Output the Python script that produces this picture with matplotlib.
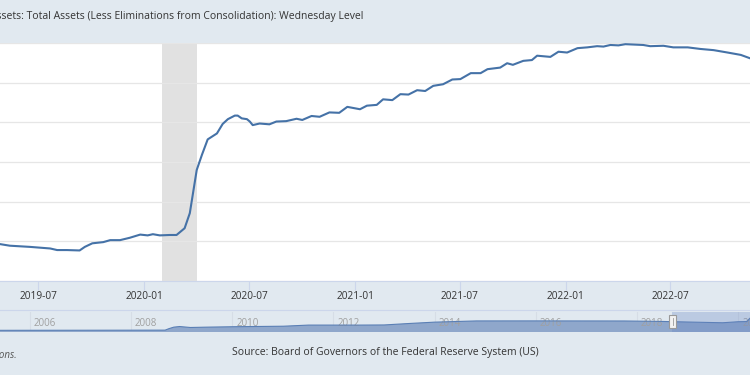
import matplotlib
matplotlib.use('Agg')
import matplotlib.pyplot as plt
import matplotlib.dates as mdates
import matplotlib.transforms as mtransforms
from matplotlib.patches import Rectangle
from matplotlib.lines import Line2D
import numpy as np

plt.rcParams['font.family'] = ['Open Sans', 'DejaVu Sans']

title = 'Assets: Total Assets (Less Eliminations from Consolidation): Wednesday Level'
source = 'Source: Board of Governors of the Federal Reserve System (US)'
note = 'Shaded areas indicate U.S. recessions.'

# total assets, trillions of dollars
dates = ['2019-04-10', '2019-04-26', '2019-05-13', '2019-06-17', '2019-07-22', '2019-08-03',
         '2019-08-20', '2019-09-11', '2019-09-20', '2019-10-03', '2019-10-22', '2019-11-03',
         '2019-11-20', '2019-12-07', '2019-12-25', '2020-01-07', '2020-01-16', '2020-01-28',
         '2020-02-14', '2020-02-26', '2020-03-11', '2020-03-20', '2020-04-01', '2020-04-10',
         '2020-04-20', '2020-05-06', '2020-05-16', '2020-05-25', '2020-06-06', '2020-06-11',
         '2020-06-18', '2020-06-27', '2020-07-02', '2020-07-07', '2020-07-19', '2020-08-05',
         '2020-08-17', '2020-09-03', '2020-09-21', '2020-10-01', '2020-10-17', '2020-10-31',
         '2020-11-17', '2020-12-04', '2020-12-18', '2021-01-09', '2021-01-21', '2021-02-07',
         '2021-02-18', '2021-03-06', '2021-03-20', '2021-04-03', '2021-04-18', '2021-05-02',
         '2021-05-16', '2021-06-02', '2021-06-18', '2021-07-02', '2021-07-20', '2021-08-06',
         '2021-08-18', '2021-09-09', '2021-09-21', '2021-10-01', '2021-10-19', '2021-11-03',
         '2021-11-12', '2021-12-05', '2021-12-19', '2022-01-03', '2022-01-21', '2022-02-07',
         '2022-02-24', '2022-03-07', '2022-03-19', '2022-04-02', '2022-04-14', '2022-05-15',
         '2022-05-27', '2022-06-19', '2022-07-06', '2022-07-31', '2022-08-22', '2022-09-14',
         '2022-10-08', '2022-10-31', '2022-11-17', '2022-11-30']
values = [3.95, 3.93, 3.89, 3.86, 3.82, 3.78,
          3.78, 3.77, 3.86, 3.95, 3.98, 4.03,
          4.03, 4.09, 4.17, 4.15, 4.18, 4.15,
          4.16, 4.16, 4.33, 4.71, 5.80, 6.18,
          6.57, 6.72, 6.96, 7.08, 7.17, 7.17,
          7.10, 7.08, 7.02, 6.93, 6.97, 6.95,
          7.02, 7.03, 7.09, 7.06, 7.16, 7.14,
          7.25, 7.24, 7.39, 7.33, 7.42, 7.44,
          7.58, 7.56, 7.71, 7.70, 7.81, 7.79,
          7.92, 7.96, 8.08, 8.09, 8.24, 8.24,
          8.34, 8.38, 8.49, 8.45, 8.55, 8.57,
          8.68, 8.65, 8.78, 8.76, 8.87, 8.89,
          8.92, 8.91, 8.95, 8.94, 8.97, 8.95,
          8.92, 8.93, 8.89, 8.89, 8.85, 8.82,
          8.76, 8.70, 8.61, 8.57]

recession = ('2020-02-01', '2020-04-01')
tick_dates = ['2019-07-01', '2020-01-01', '2020-07-01', '2021-01-01',
              '2021-07-01', '2022-01-01', '2022-07-01']
tick_labels = ['2019-07', '2020-01', '2020-07', '2021-01', '2021-07', '2022-01', '2022-07']

# navigator (full history, coarse)
nav_dates = ['2005-01-05', '2006-01-04', '2007-01-03', '2008-01-02', '2008-09-03', '2008-10-01',
             '2008-11-05', '2008-12-17', '2009-03-04', '2009-07-01', '2010-01-06', '2010-07-07',
             '2011-01-05', '2011-07-06', '2012-07-04', '2013-01-02', '2013-07-03', '2014-01-01',
             '2014-10-29', '2016-01-06', '2017-10-04', '2018-07-04', '2019-01-02', '2019-09-11',
             '2020-01-01', '2020-03-04', '2020-04-01', '2020-06-10']
nav_values = [0.83, 0.85, 0.87, 0.89, 0.91, 1.49,
              2.07, 2.31, 1.94, 2.07, 2.23, 2.33,
              2.43, 2.87, 2.87, 2.92, 3.49, 4.01,
              4.48, 4.49, 4.46, 4.28, 4.06, 3.77,
              4.17, 4.24, 5.81, 7.17]
nav_years = [2006, 2008, 2010, 2012, 2014, 2016, 2018, 2020]

bg = '#e1e9f0'
W, H = 750, 375


def fy(px):
    return 1 - px / H


def d(s):
    return mdates.datestr2num(s)


fig = plt.figure(figsize=(7.5, 3.75), dpi=100, facecolor=bg)

# main plot
ax = fig.add_axes([0, fy(281), 1, (281 - 43) / H])
ax.set_facecolor('white')
ax.axvspan(d(recession[0]), d(recession[1]), color='#e1e1e1', lw=0, zorder=0)
ax.plot([d(s) for s in dates], values, color='#4572a7', lw=1.5, zorder=3,
        solid_capstyle='round', solid_joinstyle='round')
ax.set_xlim(d('2019-04-26'), d('2022-11-16'))
ax.set_ylim(3, 9)
ax.set_yticks(range(3, 10))
ax.grid(axis='y', color='#e6e6e6', lw=0.9, zorder=1)
ax.set_xticks([d(s) for s in tick_dates])
ax.set_xticklabels(tick_labels)
ax.tick_params(axis='x', length=6.5, width=0.8, color='#ccd6eb', labelsize=7.3,
               labelcolor='#333333', pad=1)
ax.tick_params(axis='y', left=False, labelleft=False)
for k in ['top', 'left', 'right']:
    ax.spines[k].set_visible(False)
ax.spines['bottom'].set_color('#ccd6eb')
ax.spines['bottom'].set_linewidth(0.8)

fig.add_artist(Line2D([0, 1], [fy(310), fy(310)], color='#ccd6eb', lw=0.8))

# navigator
nav = fig.add_axes([0, fy(332), 1, (332 - 312) / H])
nav.set_facecolor(bg)
nx = [d(s) for s in nav_dates]
nav.fill_between(nx, nav_values, 0, color='#8fa7cb', lw=0, zorder=2)
nav.plot(nx, nav_values, color='#5a7fb5', lw=0.8, zorder=3)
nav.set_xlim(d('2005-05-30'), d('2020-03-27'))
nav.set_ylim(0.19, 7.94)
nav.axis('off')
trans = mtransforms.offset_copy(nav.transData, fig=fig, x=4, y=0, units='dots')
lab_tr = mtransforms.blended_transform_factory(trans, nav.transAxes)
for yr in nav_years:
    x = d('%d-01-01' % yr)
    nav.axvline(x, color='#d6dde6', lw=0.8, zorder=1)
    nav.text(x, 0.4, str(yr), transform=lab_tr, ha='left', va='center',
             fontsize=7, color='#a0a0a0', zorder=2.5)

# selected range mask and handle
fig.add_artist(Rectangle((672 / W, fy(332)), (W - 672) / W, 20 / H,
                         facecolor=(102 / 255, 133 / 255, 194 / 255, 0.3), lw=0))
fig.add_artist(Rectangle((669 / W, fy(328)), 7 / W, 13 / H,
                         facecolor='#f2f2f2', edgecolor='#999999', lw=0.8))
fig.add_artist(Line2D([672.5 / W, 672.5 / W], [fy(325), fy(318)], color='#999999', lw=0.6))

# texts
fig.text(363 / W, fy(17), title, ha='right', va='center', fontsize=7.5, color='#333333')
fig.text(232 / W, fy(352), source, ha='left', va='center', fontsize=7.45, color='#333333')
fig.text(17 / W, fy(356), note, ha='right', va='center', fontsize=7, color='#555555',
         style='italic')

fig.savefig('out.png', dpi=100, facecolor=bg)
